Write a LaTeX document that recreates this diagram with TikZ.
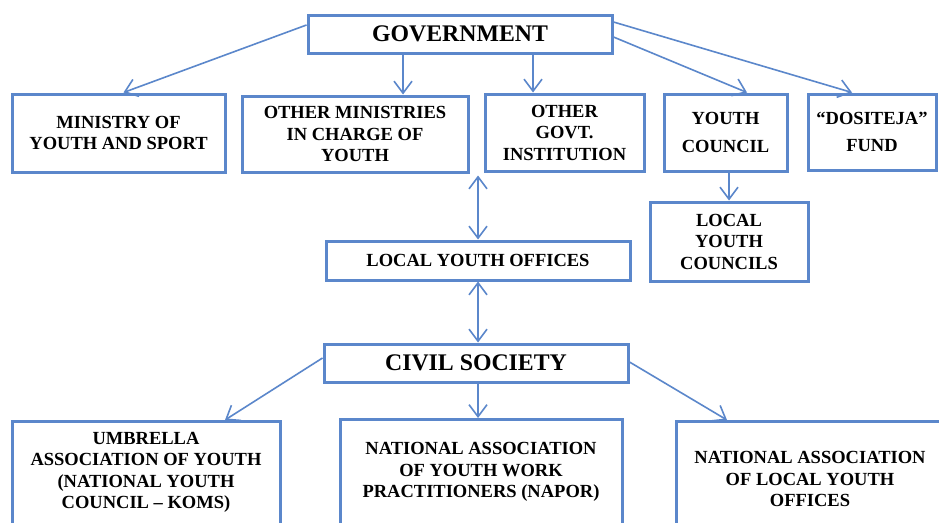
\documentclass[tikz,border=0pt]{standalone}
\usepackage{fontspec}
\setmainfont{Liberation Serif}
\usetikzlibrary{arrows.meta}
\definecolor{bl}{HTML}{5B87CB}
\begin{document}
\begin{tikzpicture}[x=1pt,y=-1pt,
  box/.style={draw=bl, line width=3pt, fill=white, rectangle, inner sep=0pt, align=center,
    font=\bfseries\fontsize{18.5}{21.5}\selectfont},
  bigbox/.style={box, font=\bfseries\fontsize{23.8}{27}\selectfont},
  txt/.style={inner sep=0pt, align=center, font=\bfseries\fontsize{18.5}{21.5}\selectfont},
  tip/.tip={Straight Barb[length=12pt,width=18pt,line width=1.6pt]},
  arr/.style={draw=bl, line width=1.6pt, -tip},
  darr/.style={draw=bl, line width=1.6pt, tip-tip}
]
\useasboundingbox (0,0) rectangle (939,522);
\fill[white] (0,0) rectangle (939,522);
\clip (0,0) rectangle (939,522);

% top level
\node[bigbox, minimum width=304pt, minimum height=38pt] (gov) at (460,34) {GOVERNMENT};
\node[box, minimum width=213pt, minimum height=78pt] (min) at (118.5,133) {MINISTRY OF\\YOUTH AND SPORT};
\node[box, minimum width=226pt, minimum height=76pt] (oth) at (355,134) {OTHER MINISTRIES\\IN CHARGE OF\\YOUTH};
\node[box, minimum width=159pt, minimum height=77pt] (ogi) at (564.5,132.5) {OTHER\\GOVT.\\INSTITUTION};
\node[box, minimum width=123pt, minimum height=77pt] (yc) at (725.5,132.5) {YOUTH\\[7pt]COUNCIL};
\node[box, minimum width=128pt, minimum height=76pt] (dos) at (872,132) {“DOSITEJA”\\[5pt]FUND};
\node[box, minimum width=158pt, minimum height=79pt] (lyc) at (729,241.5) {LOCAL\\YOUTH\\COUNCILS};
\node[box, minimum width=304pt, minimum height=39pt] (lyo) at (478,260.5) {LOCAL YOUTH OFFICES};

% civil society
\node[bigbox, minimum width=304pt, minimum height=38pt] (cs) at (476,363) {CIVIL SOCIETY};
\node[box, minimum width=268pt, minimum height=130pt, anchor=north] (umb) at (146,420) {};
\node[box, minimum width=282pt, minimum height=130pt, anchor=north] (nap) at (481,418) {};
\node[box, minimum width=268pt, minimum height=130pt, anchor=north] (nal) at (810,420) {};
\node[txt] (umbt) at (146,472.5) {UMBRELLA\\ASSOCIATION OF YOUTH\\(NATIONAL YOUTH\\COUNCIL – KOMS)};
\node[txt] (napt) at (481,472) {NATIONAL ASSOCIATION\\OF YOUTH WORK\\PRACTITIONERS (NAPOR)};
\node[txt] (nalt) at (810,479) {NATIONAL ASSOCIATION\\OF LOCAL YOUTH\\OFFICES};

% connectors
\draw[arr] ([yshift=9pt]gov.west) -- ([xshift=5pt]min.north);
\draw[arr] ([xshift=-57pt]gov.south) -- ([xshift=48pt]oth.north);
\draw[arr] ([xshift=73pt]gov.south) -- ([xshift=-31.5pt]ogi.north);
\draw[arr] ([yshift=-3pt]gov.east) -- ([xshift=21.5pt]yc.north);
\draw[arr] ([yshift=12pt]gov.east) -- ([xshift=-20pt]dos.north);
\draw[arr] (lyc.north |- yc.south) -- (lyc.north);
\draw[darr] ([yshift=-2pt]lyo.north |- oth.south) -- (lyo.north);
\draw[darr] (lyo.south) -- (lyo.south |- cs.north);
\draw[arr] ([yshift=5pt]cs.west) -- ([xshift=79pt]umb.north);
\draw[arr] ([xshift=2pt]cs.south) -- ([xshift=-3pt]nap.north);
\draw[arr] ([yshift=1pt]cs.east) -- ([xshift=-83pt]nal.north);
\end{tikzpicture}
\end{document}
